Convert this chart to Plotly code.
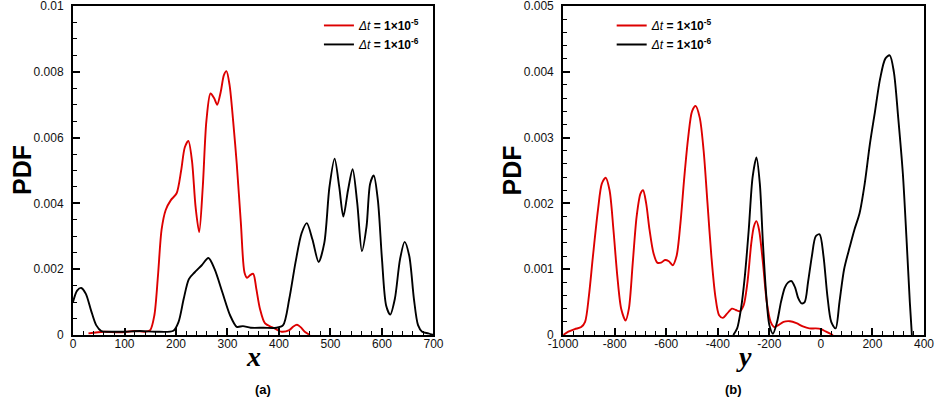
import plotly.graph_objects as go
from plotly.subplots import make_subplots

# ---- panel (a): PDF of x ----
xa_red = [30, 60, 90, 120, 140, 150, 158, 165, 172, 180, 190, 201, 210, 217, 224, 231, 238, 245,
          252, 259, 267, 274, 280, 287, 293, 298, 304, 311, 318, 326, 333, 338, 344, 350, 356, 363,
          373, 389, 405, 420, 428, 435, 442, 450, 460]
pa_red = [0.00005, 0.0001, 0.00008, 0.00012, 0.0001, 0.00015, 0.0006, 0.0018, 0.0032, 0.0038,
          0.0041, 0.0043, 0.0050, 0.0057, 0.0059, 0.0053, 0.0039, 0.00313, 0.0045, 0.0065, 0.00734,
          0.0072, 0.0070, 0.0074, 0.0079, 0.00802, 0.0076, 0.0065, 0.0052, 0.0034, 0.0019, 0.00174,
          0.00182, 0.00186, 0.0014, 0.0008, 0.00035, 0.00022, 0.0001, 0.00015, 0.00026, 0.00031,
          0.00024, 0.0001, 0.0]

xa_blk = [0, 8, 16, 25, 35, 45, 55, 70, 100, 130, 160, 195, 205, 215, 225, 236, 250, 263, 275, 290,
          305, 318, 330, 345, 370, 395, 408, 420, 432, 444, 454, 465, 477, 488, 498, 508, 517, 525,
          534, 543, 552, 561, 570, 577, 584, 592, 600, 608, 616, 625, 635, 644, 653, 662, 670, 678,
          690, 700]
pa_blk = [0.00100, 0.00135, 0.00143, 0.00125, 0.00075, 0.0003, 0.00012, 0.0001, 0.0001, 0.00012,
          0.0001, 0.00013, 0.0004, 0.0011, 0.0017, 0.0019, 0.00212, 0.00234, 0.0020, 0.0013, 0.0006,
          0.00025, 0.00027, 0.00022, 0.00022, 0.00022, 0.0003, 0.0011, 0.0022, 0.0031, 0.0034,
          0.0029, 0.00222, 0.0028, 0.0045, 0.00536, 0.0045, 0.0036, 0.0044, 0.00504, 0.0040,
          0.00255, 0.0033, 0.0046, 0.00485, 0.0041, 0.0023, 0.0009, 0.00062, 0.0011, 0.0023,
          0.00283, 0.0024, 0.0011, 0.0003, 0.0001, 0.00005, 0.0]

# ---- panel (b): PDF of y ----
yb_red = [-1000, -980, -955, -930, -915, -900, -885, -865, -850, -835, -820, -805, -790, -775, -758,
          -745, -730, -715, -700, -690, -678, -665, -650, -635, -620, -605, -590, -575, -560, -545,
          -530, -515, -500, -486, -470, -455, -440, -425, -410, -395, -380, -365, -345, -330, -315,
          -300, -285, -270, -260, -250, -240, -225, -210, -195, -180, -165, -145, -120, -95, -70,
          -45, -20, 0, 20, 47]
pb_red = [0.0, 0.00005, 0.00009, 0.00012, 0.0002, 0.0006, 0.00118, 0.0019, 0.0023, 0.00239, 0.0022,
          0.0016, 0.0009, 0.0004, 0.00022, 0.0004, 0.0011, 0.0018, 0.00215, 0.0022, 0.0020, 0.0016,
          0.00125, 0.0011, 0.0011, 0.00114, 0.00112, 0.00106, 0.0012, 0.0017, 0.0024, 0.0030,
          0.0034, 0.00348, 0.0033, 0.0028, 0.0020, 0.0012, 0.0006, 0.0003, 0.00026, 0.00032,
          0.0004, 0.00038, 0.00036, 0.00045, 0.0008, 0.0014, 0.00165, 0.00173, 0.0016, 0.0011,
          0.0005, 0.0002, 0.00012, 0.00015, 0.0002, 0.00021, 0.00018, 0.00013, 0.0001, 0.0001,
          0.00009, 0.00005, 0.0]

yb_blk = [-340, -325, -310, -295, -280, -265, -250, -237, -225, -212, -200, -186, -170, -155, -140,
          -127, -114, -100, -88, -75, -63, -50, -35, -20, -5, 10, 25, 40, 57, 72, 90, 112, 130, 150,
          170, 190, 210, 230, 250, 267, 283, 300, 318, 333, 345, 353]
pb_blk = [0.0, 0.0001, 0.0004, 0.0009, 0.0016, 0.0024, 0.0027, 0.0023, 0.0014, 0.0006, 0.00015,
          0.00002, 0.0002, 0.0005, 0.00072, 0.0008, 0.00082, 0.00072, 0.00056, 0.00048, 0.0005,
          0.0008, 0.0012, 0.0015, 0.00153, 0.0012, 0.0006, 0.0002, 0.0001, 0.0005, 0.0010, 0.00134,
          0.0016, 0.00185, 0.0023, 0.0029, 0.0034, 0.0039, 0.0042, 0.00425, 0.0040, 0.0033,
          0.00245, 0.0014, 0.0005, 0.0]

series_names = ["<i>Δt</i><b> = 1×10<sup>-5</sup></b>", "<i>Δt</i><b> = 1×10<sup>-6</sup></b>"]
series_colors = ["#dd0000", "#000000"]

xa_ticks = [0, 100, 200, 300, 400, 500, 600, 700]
ya_ticks = [0, 0.002, 0.004, 0.006, 0.008, 0.01]
ya_text = ["0", "0.002", "0.004", "0.006", "0.008", "0.01"]
xb_ticks = [-1000, -800, -600, -400, -200, 0, 200, 400]
xb_text = ["-1000", "-800", "-600", "-400", "-200", "0", "200", "400"]
yb_ticks = [0, 0.001, 0.002, 0.003, 0.004, 0.005]
yb_text = ["0", "0.001", "0.002", "0.003", "0.004", "0.005"]

FONT = "Liberation Sans, Arial, sans-serif"
SERIF = "Liberation Serif, Times New Roman, serif"

fig = make_subplots(rows=1, cols=2, horizontal_spacing=0.15)

for xs, ps, nm, col in [(xa_red, pa_red, series_names[0], series_colors[0]),
                        (xa_blk, pa_blk, series_names[1], series_colors[1])]:
    fig.add_trace(go.Scatter(x=xs, y=ps, mode="lines", name=nm,
                             line=dict(color=col, width=1.9, shape="spline", smoothing=0.8),
                             legend="legend"), row=1, col=1)
for xs, ps, nm, col in [(yb_red, pb_red, series_names[0], series_colors[0]),
                        (yb_blk, pb_blk, series_names[1], series_colors[1])]:
    fig.add_trace(go.Scatter(x=xs, y=ps, mode="lines", name=nm,
                             line=dict(color=col, width=1.9, shape="spline", smoothing=0.8),
                             legend="legend2"), row=1, col=2)

axis_common = dict(showline=True, linecolor="black", linewidth=2, mirror=True,
                   ticks="inside", ticklen=7, tickwidth=2, tickcolor="black",
                   showgrid=False, zeroline=False, ticklabeloverflow="allow",
                   tickfont=dict(family=FONT, size=12, color="#111111"))

fig.update_xaxes(**axis_common)
fig.update_yaxes(**axis_common)

minor_x = dict(ticks="inside", ticklen=4, tickwidth=1, tickcolor="black", tickmode="linear")

fig.update_layout(
    xaxis=dict(domain=[0, 0.4236], range=[0, 700], tickmode="array", tickvals=xa_ticks,
               minor=dict(minor_x, tick0=0, dtick=20), ticklabelstandoff=-3),
    yaxis=dict(range=[0, 0.0100001], tickmode="array", tickvals=ya_ticks, ticktext=ya_text,
               minor=dict(minor_x, tick0=0, dtick=0.0005), ticklabelstandoff=5),
    xaxis2=dict(domain=[0.576, 1.0], range=[-1000, 400.01], tickmode="array", tickvals=xb_ticks,
                ticktext=xb_text, minor=dict(minor_x, tick0=-1000, dtick=40), ticklabelstandoff=-3),
    yaxis2=dict(range=[0, 0.00500001], tickmode="array", tickvals=yb_ticks, ticktext=yb_text,
                minor=dict(minor_x, tick0=0, dtick=0.0002), ticklabelstandoff=5),
    legend=dict(x=0.289, y=0.985, xanchor="left", yanchor="top", bgcolor="rgba(0,0,0,0)",
                font=dict(family=FONT, size=12, color="black"), tracegroupgap=0),
    legend2=dict(x=0.633, y=0.985, xanchor="left", yanchor="top", bgcolor="rgba(0,0,0,0)",
                 font=dict(family=FONT, size=12, color="black"), tracegroupgap=0),
    width=935, height=408,
    margin=dict(l=73, r=11, t=6, b=73, autoexpand=False),
    plot_bgcolor="white", paper_bgcolor="white",
    annotations=[
        dict(text="<b>PDF</b>", x=-0.0605, y=0.5, xref="paper", yref="paper", showarrow=False,
             textangle=-90, xanchor="center", yanchor="middle",
             font=dict(family=FONT, size=25, color="black")),
        dict(text="<b>PDF</b>", x=0.5147, y=0.5, xref="paper", yref="paper", showarrow=False,
             textangle=-90, xanchor="center", yanchor="middle",
             font=dict(family=FONT, size=25, color="black")),
        dict(text="<b><i>x</i></b>", x=0.2118, y=-0.066, xref="paper", yref="paper", showarrow=False,
             xanchor="center", yanchor="middle", font=dict(family=SERIF, size=28, color="black")),
        dict(text="<b><i>y</i></b>", x=0.788, y=-0.066, xref="paper", yref="paper", showarrow=False,
             xanchor="center", yanchor="middle", font=dict(family=SERIF, size=28, color="black")),
        dict(text="<b>(a)</b>", x=0.2118, y=-0.165, xref="paper", yref="paper", showarrow=False,
             yanchor="middle", font=dict(family=FONT, size=13, color="black")),
        dict(text="<b>(b)</b>", x=0.788, y=-0.165, xref="paper", yref="paper", showarrow=False,
             yanchor="middle", font=dict(family=FONT, size=13, color="black")),
    ],
)

fig.write_html("out.html", config={"displayModeBar": False},
               post_script="document.body.style.margin='0';")
